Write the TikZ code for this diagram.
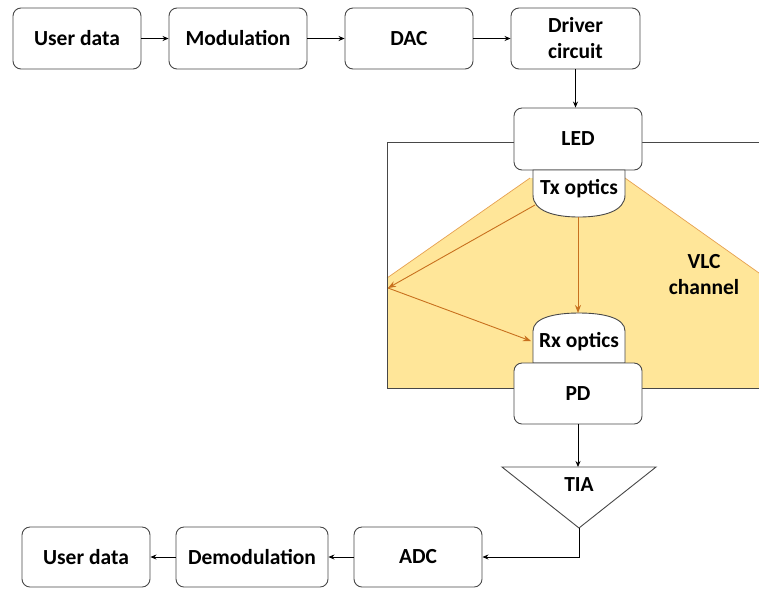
\documentclass[tikz,border=0pt]{standalone}
\usepackage{fontspec}
\setmainfont{Carlito}
\usetikzlibrary{arrows.meta}
\definecolor{chfill}{HTML}{FFE699}
\definecolor{chedge}{HTML}{E6A050}
\definecolor{ray}{HTML}{C8701E}
\definecolor{bord}{HTML}{474747}
\tikzset{
  blk/.style={draw=bord, line width=0.9pt, rounded corners=8pt, fill=white, align=center,
    font=\fontsize{21.5}{26}\selectfont\bfseries, inner sep=0pt},
  lbl/.style={font=\fontsize{21.5}{26}\selectfont\bfseries, align=center, inner sep=0pt},
  conn/.style={draw=black, line width=0.8pt, -{Stealth[length=6pt,width=5pt]}},
  rayarr/.style={draw=ray, line width=0.9pt, -{Stealth[length=8pt,width=6pt]}},
}
\begin{document}
\begin{tikzpicture}[x=1pt,y=-1pt]
\useasboundingbox (0,0) rectangle (759,590);
% channel fill
\fill[chfill] (530,178) -- (387,278) -- (387,388) -- (759,388) -- (759,273) -- (625,178) -- cycle;
\draw[chedge, line width=0.7pt] (387,278) -- (530,178);
\draw[chedge, line width=0.7pt] (625,178) -- (759,273);
% channel outline
\draw[bord, line width=0.9pt] (759,142) -- (387,142) -- (387,388) -- (759,388);
% top row
\node[blk, minimum width=128pt, minimum height=61pt] (ud1) at (77,38.5) {User data};
\node[blk, minimum width=138pt, minimum height=61pt] (mod) at (238,38.5) {Modulation};
\node[blk, minimum width=128pt, minimum height=61pt] (dac) at (409,38.5) {DAC};
\node[blk, minimum width=129pt, minimum height=61pt] (drv) at (575.5,38.5) {Driver\\circuit};
\node[blk, minimum width=128pt, minimum height=62pt] (led) at (578,139) {LED};
% Tx optics
\draw[bord, line width=0.9pt, fill=white] (533,170) -- (625,170) -- (625,195)
  .. controls (625,211) and (604,217) .. (579,217)
  .. controls (554,217) and (533,211) .. (533,195) -- cycle;
\node[lbl] (tx) at (579,189) {Tx optics};
\coordinate (txl) at (535,205);
\coordinate (txb) at (578,217);
% Rx optics
\draw[bord, line width=0.9pt, fill=white] (533,363) -- (533,331)
  .. controls (533,318) and (554,313) .. (579,313)
  .. controls (604,313) and (625,318) .. (625,331) -- (625,363) -- cycle;
\node[lbl] (rx) at (579,342) {Rx optics};
\coordinate (rxt) at (578,313);
\coordinate (rxl) at (531,341);
\coordinate (refl) at (388,288);
% PD
\node[blk, minimum width=128pt, minimum height=61pt] (pd) at (578,393.5) {PD};
% VLC channel label
\node[lbl] (vlc) at (704,275) {VLC\\channel};
% TIA
\draw[bord, line width=0.9pt, fill=white] (502,467) -- (656,467) -- (579,528) -- cycle;
\node[lbl] (tia) at (579,485) {TIA};
\coordinate (tiatop) at (578,467);
\coordinate (tiaapex) at (579,528);
% bottom row
\node[blk, minimum width=128pt, minimum height=60pt] (adc) at (418,557) {ADC};
\node[blk, minimum width=152pt, minimum height=60pt] (dem) at (252,557) {Demodulation};
\node[blk, minimum width=128pt, minimum height=60pt] (ud2) at (86,557) {User data};
% connectors
\draw[conn] (ud1) -- (mod);
\draw[conn] (mod) -- (dac);
\draw[conn] (dac) -- (drv);
\draw[conn] (drv.south) -- (drv.south |- led.north);
\draw[conn] (pd.south) -- (tiatop);
\draw[conn] (tiaapex) |- (adc.east);
\draw[conn] (adc) -- (dem);
\draw[conn] (dem) -- (ud2);
% rays
\draw[rayarr] (txl) -- (refl);
\draw[rayarr] (refl) -- (rxl);
\draw[rayarr] (txb) -- (rxt);
\end{tikzpicture}
\end{document}
